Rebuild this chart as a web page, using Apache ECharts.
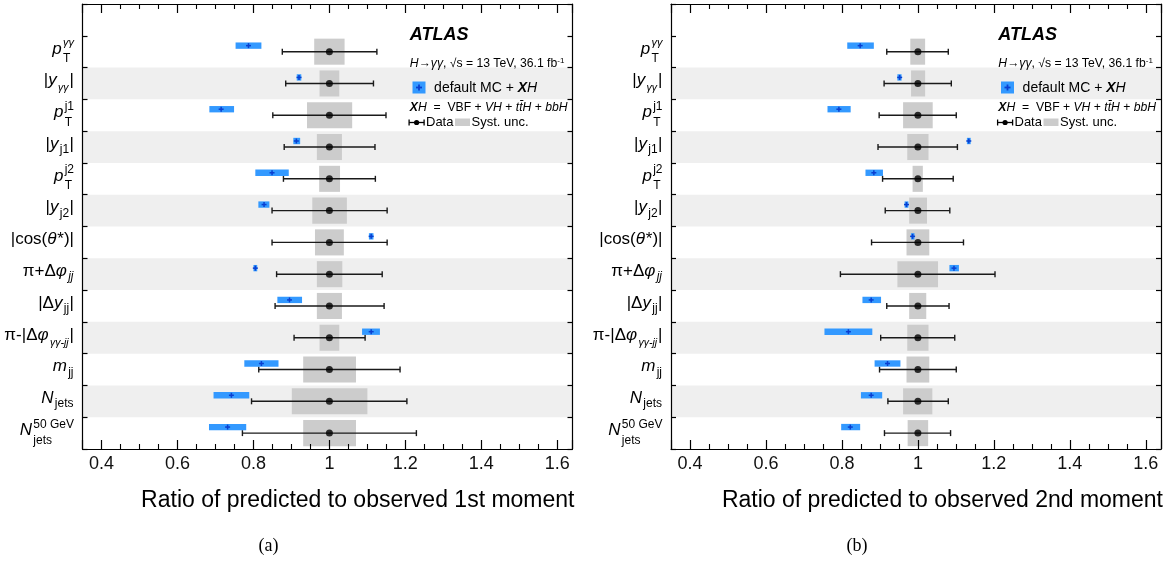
<!DOCTYPE html>
<html><head><meta charset="utf-8">
<script src="https://cdn.jsdelivr.net/npm/echarts@6/dist/echarts.min.js"></script>
<style>html,body{margin:0;padding:0;background:#fff}#c{width:1174px;height:569px}</style>
</head><body><div id="c"></div>
<script>
// ---------------- data ----------------
const categories = ['', 'pT(γγ)', '|y(γγ)|', 'pT(j1)', '|y(j1)|', 'pT(j2)', '|y(j2)|', '|cos(θ*)|',
  'π+Δφ(jj)', '|Δy(jj)|', 'π-|Δφ(γγ-jj)|', 'm(jj)', 'N(jets)', 'N(jets, 50 GeV)'];
// label markup: m = roman, mi = italic, sub/subi = subscript, ss = stacked [sup, sub, supItalic]
const labelParts = [
  [['mi','p'], ['ss','γγ','T',true]],
  [['m','|'], ['mi','y'], ['subg','γγ'], ['m','|']],
  [['mi','p'], ['ss','j1','T']],
  [['m','|'], ['mi','y'], ['sub','j1'], ['m','|']],
  [['mi','p'], ['ss','j2','T']],
  [['m','|'], ['mi','y'], ['sub','j2'], ['m','|']],
  [['m','|cos('], ['mi','θ'], ['m','*)|']],
  [['m','π+Δ'], ['mi','φ'], ['subi','jj']],
  [['m','|Δ'], ['mi','y'], ['sub','jj'], ['m','|']],
  [['m','π-|Δ'], ['mi','φ'], ['subg','γγ-jj'], ['m','|']],
  [['mi','m'], ['sub','jj']],
  [['mi','N'], ['sub','jets']],
  [['mi','N'], ['ss','50 GeV','jets']]
];
const tickLabels = ['0.4','0.6','0.8','1','1.2','1.4','1.6'];
const axisTitles = ['Ratio of predicted to observed 1st moment', 'Ratio of predicted to observed 2nd moment'];
const panelTags = ['(a)', '(b)'];

// panel (a): 1st moment
const dataA    = [1,1,1,1,1,1,1,1,1,1,1,1,1];
const statLoA  = [0.876,0.885,0.851,0.881,0.879,0.849,0.849,0.861,0.857,0.907,0.814,0.795,0.771];
const statHiA  = [1.125,1.116,1.149,1.120,1.121,1.152,1.152,1.139,1.144,1.094,1.186,1.204,1.229];
const systLoA  = [0.960,0.974,0.941,0.967,0.973,0.955,0.962,0.967,0.967,0.974,0.931,0.901,0.931];
const systHiA  = [1.040,1.026,1.060,1.033,1.028,1.046,1.038,1.034,1.033,1.026,1.070,1.100,1.070];
const mcA      = [0.787,0.920,0.715,0.913,0.849,0.828,1.110,0.805,0.895,1.110,0.821,0.742,0.732];
const mcLoA    = [0.753,0.914,0.684,0.905,0.805,0.813,1.104,0.800,0.863,1.086,0.776,0.695,0.683];
const mcHiA    = [0.821,0.926,0.749,0.923,0.893,0.842,1.116,0.810,0.928,1.133,0.866,0.789,0.781];

// panel (b): 2nd moment
const dataB    = [1,1,1,1,1,1,1,1,1,1,1,1,1];
const statLoB  = [0.918,0.911,0.898,0.895,0.907,0.914,0.878,0.796,0.918,0.902,0.899,0.921,0.912];
const statHiB  = [1.080,1.088,1.101,1.104,1.093,1.084,1.120,1.203,1.082,1.097,1.101,1.080,1.086];
const systLoB  = [0.980,0.982,0.961,0.972,0.986,0.977,0.970,0.946,0.977,0.972,0.970,0.961,0.973];
const systHiB  = [1.019,1.019,1.039,1.028,1.013,1.024,1.030,1.053,1.022,1.028,1.030,1.038,1.027];
const mcB      = [0.848,0.952,0.792,1.134,0.884,0.970,0.986,1.095,0.877,0.817,0.920,0.877,0.822];
const mcLoB    = [0.814,0.946,0.762,1.129,0.862,0.965,0.982,1.083,0.854,0.754,0.886,0.850,0.798];
const mcHiB    = [0.884,0.957,0.823,1.139,0.908,0.975,0.991,1.108,0.903,0.880,0.954,0.906,0.848];

// ---------------- layout / style ----------------
const FAM = '"Liberation Sans", Arial, Helvetica, sans-serif';
const SERIF = '"Liberation Serif", "Times New Roman", serif';
const GRIDS = [{left: 82.5, top: 4, width: 490, height: 445}, {left: 671, top: 4, width: 490, height: 445}];
const XMIN = 0.35, XMAX = 1.64;
const MAIN = 17, SUB = 12, SUBG = 10.5;
const BAND = '#efefef', SYST = '#cccccc', MCC = '#3399ff', MCM = '#0a3fd0', ERR = '#1a1a1a';

const mctx = document.createElement('canvas').getContext('2d');
function fstr(size, italic, bold){ return (italic?'italic ':'') + (bold?'bold ':'') + size + 'px ' + FAM; }
function tw(t, size, italic, bold){ mctx.font = fstr(size, italic, bold); return mctx.measureText(t).width; }

function layoutLabel(parts){
  const out = []; let x = 0;
  for (const p of parts){
    const k = p[0];
    if (k === 'm' || k === 'mi'){
      const it = k === 'mi';
      out.push({t:p[1], s:MAIN, it, dx:x, dy:0}); x += tw(p[1], MAIN, it) + (it?0.8:0);
    } else if (k === 'sub' || k === 'subi'){
      const it = k === 'subi';
      out.push({t:p[1], s:SUB, it, dx:x+0.5, dy:4}); x += tw(p[1], SUB, it) + 1;
    } else if (k === 'subg'){
      out.push({t:p[1], s:SUBG, it:true, dx:x+0.5, dy:5.5}); x += tw(p[1], SUBG, true) + 1.5;
    } else if (k === 'ss'){
      const supS = p[3] ? SUBG+0.5 : SUB;
      const w1 = tw(p[1], supS, !!p[3]), w2 = tw(p[2], SUB, false);
      out.push({t:p[1], s:supS, it:!!p[3], dx:x+0.5, dy:-7.5});
      out.push({t:p[2], s:SUB, it:false, dx:x+0.5, dy:8.5});
      x += Math.max(w1, w2) + 0.5;
    }
  }
  return {out, w:x};
}

function catIdx(i){ return i + 1; }

function bandSeries(g){
  const rows = categories.map((c, i) => i).filter(i => i > 0 && i % 2 === 0);
  return {type:'custom', xAxisIndex:2*g, yAxisIndex:2*g, z:1, silent:true,
    data: rows.map(r => [1, r]), encode:{x:0, y:1},
    renderItem(params, api){
      const cs = params.coordSys; const c = api.coord([api.value(0), api.value(1)]);
      const h = api.size([0, 1])[1];
      return {type:'rect', shape:{x:cs.x, y:c[1]-h/2, width:cs.width, height:h}, style:{fill:BAND}};
    }};
}
function systSeries(g, lo, hi){
  return {type:'custom', xAxisIndex:2*g, yAxisIndex:2*g, z:2, silent:true,
    data: lo.map((v, i) => [v, hi[i], catIdx(i)]), encode:{x:[0,1], y:2},
    renderItem(params, api){
      const a = api.coord([api.value(0), api.value(2)]), b = api.coord([api.value(1), api.value(2)]);
      const h = api.size([0, 1])[1] * 0.82;
      return {type:'rect', shape:{x:a[0], y:a[1]-h/2, width:b[0]-a[0], height:h}, style:{fill:SYST}};
    }};
}
function errSeries(g, lo, hi){
  return {type:'custom', xAxisIndex:2*g, yAxisIndex:2*g, z:3, silent:true,
    data: lo.map((v, i) => [v, hi[i], catIdx(i)]), encode:{x:[0,1], y:2},
    renderItem(params, api){
      const a = api.coord([api.value(0), api.value(2)]), b = api.coord([api.value(1), api.value(2)]);
      const st = {stroke:ERR, lineWidth:1.4};
      return {type:'group', children:[
        {type:'line', shape:{x1:a[0], y1:a[1], x2:b[0], y2:b[1]}, style:st},
        {type:'line', shape:{x1:a[0], y1:a[1]-3, x2:a[0], y2:a[1]+3}, style:st},
        {type:'line', shape:{x1:b[0], y1:b[1]-3, x2:b[0], y2:b[1]+3}, style:st}
      ]};
    }};
}
function pointSeries(g, vals){
  return {type:'scatter', xAxisIndex:2*g, yAxisIndex:2*g, z:4, silent:true, symbol:'circle', symbolSize:7,
    itemStyle:{color:'#000'}, data: vals.map((v, i) => [v, catIdx(i)])};
}
function mcSeries(g, c, lo, hi){
  return {type:'custom', xAxisIndex:2*g, yAxisIndex:2*g, z:5, silent:true,
    data: c.map((v, i) => [v, lo[i], hi[i], catIdx(i)]), encode:{x:[0,1,2], y:3},
    renderItem(params, api){
      const h = api.size([0, 1])[1];
      const m = api.coord([api.value(0), api.value(3)]);
      const a = api.coord([api.value(1), api.value(3)]), b = api.coord([api.value(2), api.value(3)]);
      const yc = m[1] - 0.19*h, bh = 0.2*h;
      const st = {stroke:MCM, lineWidth:1.5};
      return {type:'group', children:[
        {type:'rect', shape:{x:a[0], y:yc-bh/2, width:Math.max(b[0]-a[0], 3), height:bh}, style:{fill:MCC}},
        {type:'line', shape:{x1:m[0]-2.5, y1:yc, x2:m[0]+2.5, y2:yc}, style:st},
        {type:'line', shape:{x1:m[0], y1:yc-2.5, x2:m[0], y2:yc+2.5}, style:st}
      ]};
    }};
}
function labelSeries(g){
  return {type:'custom', xAxisIndex:2*g, yAxisIndex:2*g, z:6, silent:true, clip:false,
    data: labelParts.map((p, i) => [1, catIdx(i)]), encode:{x:0, y:1},
    renderItem(params, api){
      const cs = params.coordSys; const idx = api.value(1);
      const c = api.coord([api.value(0), idx]);
      const L = layoutLabel(labelParts[idx - 1]);
      const right = cs.x - 8.5, base = c[1] + 3;
      return {type:'group', children: L.out.map(p => ({type:'text', x: right - L.w + p.dx, y: base + p.dy - 0.3465*p.s,
        style:{text:p.t, fontSize:p.s, fontFamily:FAM, fontStyle:p.it?'italic':'normal', fill:'#000', align:'left', verticalAlign:'middle'}}))};
    }};
}

function xAxes(g){
  const base = {gridIndex:g, type:'value', min:XMIN, max:XMAX, splitNumber:7, minInterval:0.2, maxInterval:0.2, z:10,
    axisLine:{show:true, onZero:false, lineStyle:{color:'#000', width:1.2}},
    axisTick:{show:true, inside:true, length:9, lineStyle:{color:'#000', width:1.2}},
    minorTick:{show:true, splitNumber:4, length:5, lineStyle:{color:'#000', width:1.1}},
    splitLine:{show:false}, minorSplitLine:{show:false}};
  return [
    Object.assign({}, base, {position:'bottom', axisLabel:{show:true, margin:6, color:'#111', fontSize:18, fontFamily:FAM,
      formatter: v => { const t = tickLabels.find(s => Math.abs(parseFloat(s) - v) < 1e-6); return t || ''; }}}),
    Object.assign({}, base, {position:'top', axisLabel:{show:false}})
  ];
}
function yAxes(g){
  const base = {gridIndex:g, type:'category', data:categories, inverse:true, z:10,
    axisLine:{show:true, onZero:false, lineStyle:{color:'#000', width:1.2}},
    axisTick:{show:true, inside:true, length:5, interval:0, lineStyle:{color:'#000', width:1.2}},
    axisLabel:{show:false}, splitLine:{show:false}};
  return [Object.assign({}, base, {position:'left'}), Object.assign({}, base, {position:'right'})];
}

function legendGraphics(R){
  const L = R - 162.7;
  const t = (x, y, text, size, extra) => ({type:'text', x, y, z:20, style:Object.assign({text, fontSize:size, fontFamily:FAM, fill:'#000', align:'left', verticalAlign:'middle'}, extra||{})});
  const ln = (x1, y1, x2, y2, w, c) => ({type:'line', z:20, shape:{x1, y1, x2, y2}, style:{stroke:c||'#000', lineWidth:w||1.3}});
  const DY = 122.5;
  return [
    t(L, 35.5, 'ATLAS', 18, {fontWeight:'bold', fontStyle:'italic'}),
    t(L, 64, '{i|H→γγ}, √s = 13 TeV, 36.1 fb{s|-1}', 12.2, {rich:{i:{fontStyle:'italic', fontSize:12.2, fontFamily:FAM}, s:{fontSize:8, fontFamily:FAM, verticalAlign:'top', padding:[0,0,6,0]}}}),
    {type:'rect', z:20, shape:{x:R-160, y:81.5, width:13, height:12}, style:{fill:MCC}},
    ln(R-156.5, 87.5, R-150.5, 87.5, 1.8, MCM), ln(R-153.5, 84.5, R-153.5, 90.5, 1.8, MCM),
    t(R-138.4, 88, 'default MC + {b|X}{i|H}', 14, {rich:{b:{fontWeight:'bold', fontStyle:'italic', fontSize:14, fontFamily:FAM}, i:{fontStyle:'italic', fontSize:14, fontFamily:FAM}}}),
    t(L, 107.5, '{b|X}{i|H}  =  VBF + {i|VH} + {i|tt\u0304H} + {i|bbH}', 12.2, {rich:{b:{fontWeight:'bold', fontStyle:'italic', fontSize:12.2, fontFamily:FAM}, i:{fontStyle:'italic', fontSize:12.2, fontFamily:FAM}}}),
    ln(R-163.4, DY, R-148.4, DY, 1.3), ln(R-163.4, DY-3, R-163.4, DY+3, 1.3), ln(R-148.4, DY-3, R-148.4, DY+3, 1.3),
    {type:'circle', z:20, shape:{cx:R-155.9, cy:DY, r:2.6}, style:{fill:'#000'}},
    t(R-146.5, DY-0.5, 'Data', 13),
    {type:'rect', z:20, shape:{x:R-117.5, y:DY-4, width:15, height:7.5}, style:{fill:SYST}},
    t(R-101, DY-0.5, 'Syst. unc.', 13)
  ];
}
function bottomGraphics(g){
  const G = GRIDS[g]; const R = G.left + G.width;
  return [
    {type:'text', x:R+2, y:501, z:20, style:{text:axisTitles[g], fontSize:23, fontFamily:FAM, fill:'#000', align:'right', verticalAlign:'middle'}},
    {type:'text', x:G.left + 186, y:546, z:20, style:{text:panelTags[g], fontSize:18, fontFamily:SERIF, fill:'#000', align:'center', verticalAlign:'middle'}}
  ];
}

const chart = echarts.init(document.getElementById('c'), null, {renderer:'canvas'});
chart.setOption({
  animation:false, backgroundColor:'#fff',
  grid: GRIDS,
  xAxis: [...xAxes(0), ...xAxes(1)],
  yAxis: [...yAxes(0), ...yAxes(1)],
  series: [
    bandSeries(0), systSeries(0, systLoA, systHiA), errSeries(0, statLoA, statHiA), pointSeries(0, dataA), mcSeries(0, mcA, mcLoA, mcHiA), labelSeries(0),
    bandSeries(1), systSeries(1, systLoB, systHiB), errSeries(1, statLoB, statHiB), pointSeries(1, dataB), mcSeries(1, mcB, mcLoB, mcHiB), labelSeries(1)
  ],
  graphic: [...legendGraphics(GRIDS[0].left + GRIDS[0].width), ...legendGraphics(GRIDS[1].left + GRIDS[1].width), ...bottomGraphics(0), ...bottomGraphics(1)]
});
</script></body></html>
